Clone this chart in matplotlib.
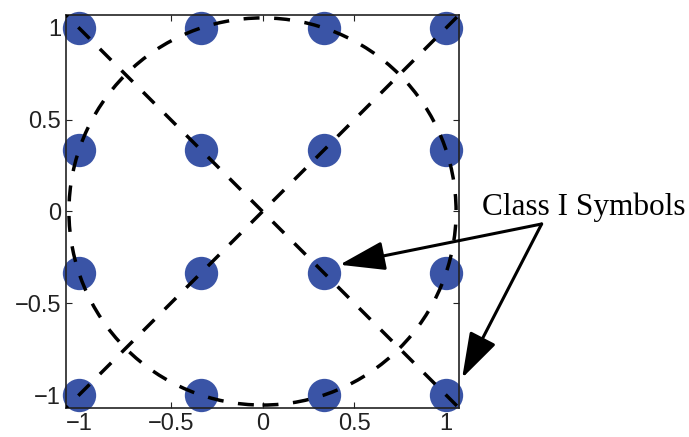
import matplotlib
matplotlib.use("Agg")
import matplotlib.pyplot as plt
from matplotlib.patches import Circle
import numpy as np

plt.rcParams["font.family"] = ["Liberation Sans", "DejaVu Sans"]
plt.rcParams["axes.unicode_minus"] = True

# 16-QAM constellation levels
levels = [-1, -1/3, 1/3, 1]
ticks = [-1, -0.5, 0, 0.5, 1]
tick_labels = ["\u22121", "\u22120.5", "0", "0.5", "1"]
radius = np.sqrt(10) / 3
diag = [-1.07, 1.07]
label = "Class I Symbols"
label_pos = (1.196, -0.019)
arrow_start = (1.52, -0.068)
arrow_tips = [(0.42, -0.29), (1.087, -0.907)]

fig = plt.figure(figsize=(6.89, 4.37), dpi=100)
ax = fig.add_axes([0.0958, 0.0664, 0.5704, 0.8993])

xs, ys = np.meshgrid(levels, levels)
ax.plot(xs.ravel(), ys.ravel(), "o", ms=24, color="#3a54a6",
        mec="none", clip_on=False, zorder=2)

lw = 2.5
ax.add_patch(Circle((0, 0), radius, fill=False, ec="black", lw=lw,
                    ls=(0, (4.6, 4.2)), zorder=3))
# offset the dash phase so the diagonals open up at the origin
diag_dash = (3.8, (4.6, 4.2))
ax.plot(diag, diag, color="black", lw=lw, ls=diag_dash, zorder=3)
ax.plot(diag, diag[::-1], color="black", lw=lw, ls=diag_dash, zorder=3)

ax.set_xlim(-1.07, 1.07)
ax.set_ylim(-1.07, 1.07)
ax.set_xticks(ticks)
ax.set_yticks(ticks)
ax.set_xticklabels(tick_labels)
ax.set_yticklabels(tick_labels)
ax.tick_params(direction="in", length=4, width=0.8, labelsize=17,
               top=True, right=True, colors="#222222")
for s in ax.spines.values():
    s.set_linewidth(1.2)
    s.set_color("#222222")

ax.text(*label_pos, label, fontsize=22.5, family="Liberation Serif",
        ha="left", va="baseline")
for tip in arrow_tips:
    ax.annotate("", xy=tip, xytext=arrow_start, xycoords="data",
                annotation_clip=False,
                arrowprops=dict(arrowstyle="-|>,head_length=1.4,head_width=0.45",
                                mutation_scale=20, lw=2.2, color="black",
                                shrinkA=0, shrinkB=0))

fig.savefig("out.png", dpi=100)
